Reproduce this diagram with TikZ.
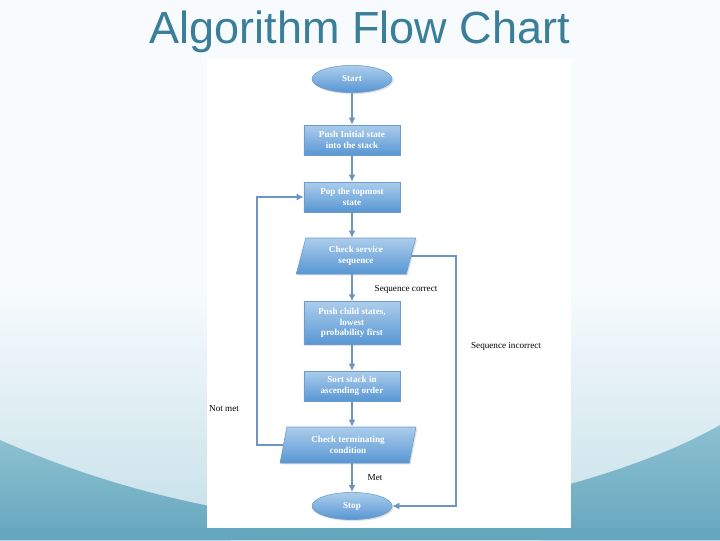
\documentclass[tikz,border=0pt]{standalone}
\usepackage{fontspec}
\setmainfont{Liberation Serif}
\newfontfamily\titlefont{Liberation Sans}
\usepackage{tikz}
\usetikzlibrary{calc}
\usetikzlibrary{shapes.geometric,shadows,arrows.meta}
\definecolor{titleblue}{HTML}{3A7E99}
\definecolor{boxtop}{HTML}{ACCDEC}
\definecolor{boxbot}{HTML}{5896D3}
\definecolor{boxline}{HTML}{6C9CCD}
\definecolor{arrowblue}{HTML}{6E95C2}
\definecolor{bgtop}{HTML}{F7FBFD}
\definecolor{bgbot}{HTML}{C4DFE8}
\definecolor{wavetop}{HTML}{8CC0D0}
\definecolor{wavebot}{HTML}{65A7BE}

\begin{document}
\begin{tikzpicture}[x=0.025cm, y=-0.025cm,
    box/.style={draw=boxline, top color=boxtop, bottom color=boxbot, text=white,
      font=\fontsize{6.5}{7.5}\selectfont\bfseries, align=center, inner sep=1pt,
      minimum width=2.4cm, minimum height=0.75cm,
      drop shadow={opacity=0.25, shadow xshift=1pt, shadow yshift=-1pt}},
    term/.style={box, ellipse, minimum width=2cm, minimum height=0.68cm},
    test/.style={box, trapezium, trapezium left angle=76, trapezium right angle=104,
      trapezium stretches=true, minimum height=0.9cm},
    flow/.style={draw=arrowblue, line width=1.3pt, -{Latex[length=5pt, width=5pt]}},
    lbl/.style={font=\fontsize{6.5}{8}\selectfont, text=black, inner sep=1pt}]
    \useasboundingbox (0,0) rectangle (720,540);
    % background and waves
    \fill[bgtop] (0,0) rectangle (720,290);
    \shade[top color=bgtop, bottom color=bgbot] (0,290) rectangle (720,540);
    \shade[top color=wavetop, bottom color=wavebot] (0,440)
      .. controls (80,475) and (150,495) .. (230,510) -- (230,540) -- (0,540) -- cycle;
    \shade[top color=wavetop, bottom color=wavebot] (540,492)
      .. controls (620,472) and (680,448) .. (720,425) -- (720,540) -- (540,540) -- cycle;
    \fill[wavebot] (0,528) rectangle (720,540);
    \fill[white] (207,58) rectangle (571,528);
    \node[font=\titlefont\fontsize{32}{36}\selectfont, text=titleblue] (title) at (360,32) {Algorithm Flow Chart};
    % flow chart
    \node[term] (start) at (352,79) {Start};
    \node[box] (push) at (352,140) {Push Initial state\\into the stack};
    \node[box] (pop) at (352,197) {Pop the topmost\\state};
    \node[test, minimum width=3cm] (chk) at (356,256) {Check service\\sequence};
    \node[box, minimum height=1.07cm] (child) at (352,323) {Push child states,\\lowest\\probability first};
    \node[box] (sort) at (352,386) {Sort stack in\\ascending order};
    \node[test, minimum width=3.4cm, trapezium left angle=78, trapezium right angle=102] (cond) at (348,445) {Check terminating\\condition};
    \node[term] (stop) at (352,506) {Stop};
    \coordinate (notmet) at (257,320);
    \coordinate (wrong) at (456,380);
    \draw[flow] (start) -- (push);
    \draw[flow] (push) -- (pop);
    \draw[flow] (pop) -- (pop |- chk.north);
    \draw[flow] (pop |- chk.south) -- (child);
    \draw[flow] (child) -- (sort);
    \draw[flow] (sort) -- (sort |- cond.north);
    \draw[flow] (sort |- cond.south) -- (stop);
    \draw[flow] (cond.west) -| (notmet) |- (pop.west);
    \draw[flow] (chk.east) -| (wrong) |- (stop.east);
    % labels
    \node[lbl] (lcorrect) at (406,289) {Sequence correct};
    \node[lbl] (lwrong) at (506,346) {Sequence incorrect};
    \node[lbl] (lnotmet) at (224,409) {Not met};
    \node[lbl] (lmet) at (375,478) {Met};
\end{tikzpicture}
\end{document}
